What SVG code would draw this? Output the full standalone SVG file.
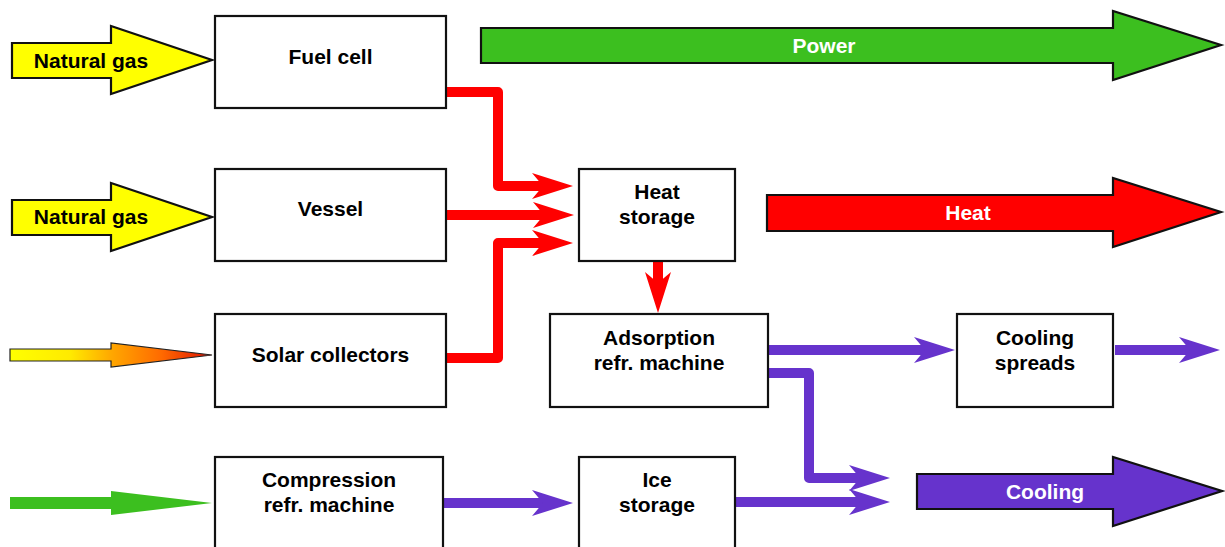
<svg xmlns="http://www.w3.org/2000/svg" width="1225" height="547" viewBox="0 0 1225 547">
<style>
.box{fill:#fff;stroke:#111;stroke-width:2.2}
.big{stroke:#111;stroke-width:2.2;stroke-linejoin:miter}
.t{font-family:"Liberation Sans",Arial,sans-serif;font-weight:bold;font-size:21px;text-anchor:middle;fill:#000}
.w{fill:#fff}
.red{fill:none;stroke:#ff0000;stroke-width:10;stroke-linejoin:round}
.pur{fill:none;stroke:#6633cc;stroke-width:10;stroke-linejoin:round}
</style>
<defs>
<linearGradient id="solar" gradientUnits="userSpaceOnUse" x1="10" y1="0" x2="212" y2="0">
<stop offset="0" stop-color="#ffff00"/>
<stop offset="0.3" stop-color="#ffea00"/>
<stop offset="0.5" stop-color="#ffa800"/>
<stop offset="0.75" stop-color="#ff6a00"/>
<stop offset="1" stop-color="#e01000"/>
</linearGradient>
<marker id="hr" markerUnits="userSpaceOnUse" markerWidth="42" markerHeight="27" viewBox="0 0 42 27" refX="11" refY="13" orient="auto">
<path d="M41,13 L0,0 L11,13 L0,26 Z" fill="#ff0000"/>
</marker>
<marker id="hp" markerUnits="userSpaceOnUse" markerWidth="42" markerHeight="27" viewBox="0 0 42 27" refX="11" refY="13" orient="auto">
<path d="M41,13 L0,0 L11,13 L0,26 Z" fill="#6633cc"/>
</marker>
</defs>
<rect width="1225" height="547" fill="#fff"/>

<g id="input-arrows">
<g id="gas1"><polygon class="big" fill="#ffff00" points="12,43 111,43 111,26 212,60 111,94 111,78 12,78"/><text class="t" x="91" y="68">Natural gas</text></g>
<g id="gas2"><polygon class="big" fill="#ffff00" points="12,200 111,200 111,183 212,217 111,251 111,235 12,235"/><text class="t" x="91" y="224">Natural gas</text></g>
<g id="solar-in"><polygon fill="url(#solar)" stroke="#222" stroke-width="1.2" points="10,349 111,349 111,343 212,355 111,367 111,361 10,361"/></g>
<g id="power-in"><polygon fill="#3cbf1f" points="10,497 111,497 111,491 212,503 111,515 111,509 10,509"/></g>
</g>

<g id="output-arrows">
<g id="power"><polygon class="big" fill="#3cbf1f" points="481,28 1113,28 1113,11 1221,45 1113,80 1113,63 481,63"/><text class="t w" x="824" y="53">Power</text></g>
<g id="heat"><polygon class="big" fill="#ff0000" points="767,195 1113,195 1113,178 1221,212 1113,247 1113,231 767,231"/><text class="t w" x="968" y="220">Heat</text></g>
<g id="cooling"><polygon class="big" fill="#6633cc" points="917,474 1113,474 1113,457 1222,491 1113,526 1113,509 917,509"/><text class="t w" x="1045" y="499">Cooling</text></g>
</g>

<g id="connectors">
<path class="red" d="M446,92 H498 V186 H543" marker-end="url(#hr)"/>
<path class="red" d="M447,215 H544" marker-end="url(#hr)"/>
<path class="red" d="M446,358 H498 V243 H543" marker-end="url(#hr)"/>
<path class="red" d="M658,261 V283" marker-end="url(#hr)"/>
<path class="pur" d="M768,350 H925" marker-end="url(#hp)"/>
<path class="pur" d="M1115,350 H1190" marker-end="url(#hp)"/>
<path class="pur" d="M768,373 H809 V478 H860" marker-end="url(#hp)"/>
<path class="pur" d="M735,502 H860" marker-end="url(#hp)"/>
<path class="pur" d="M443,503 H543" marker-end="url(#hp)"/>
</g>

<g id="fuel-cell"><rect class="box" x="215" y="16" width="231" height="92"/><text class="t" x="330.5" y="64">Fuel cell</text></g>
<g id="vessel"><rect class="box" x="215" y="169" width="231" height="92"/><text class="t" x="330.5" y="216">Vessel</text></g>
<g id="solar-collectors"><rect class="box" x="215" y="314" width="231" height="93"/><text class="t" x="330.5" y="362">Solar collectors</text></g>
<g id="compression"><rect class="box" x="215" y="457" width="228" height="100"/><text class="t" x="329" y="487">Compression</text><text class="t" x="329" y="512">refr. machine</text></g>
<g id="heat-storage"><rect class="box" x="579" y="169" width="156" height="92"/><text class="t" x="657" y="199">Heat</text><text class="t" x="657" y="224">storage</text></g>
<g id="adsorption"><rect class="box" x="550" y="314" width="218" height="93"/><text class="t" x="659" y="345">Adsorption</text><text class="t" x="659" y="370">refr. machine</text></g>
<g id="cooling-spreads"><rect class="box" x="957" y="314" width="156" height="93"/><text class="t" x="1035" y="345">Cooling</text><text class="t" x="1035" y="370">spreads</text></g>
<g id="ice-storage"><rect class="box" x="579" y="457" width="156" height="100"/><text class="t" x="657" y="487">Ice</text><text class="t" x="657" y="512">storage</text></g>
</svg>
